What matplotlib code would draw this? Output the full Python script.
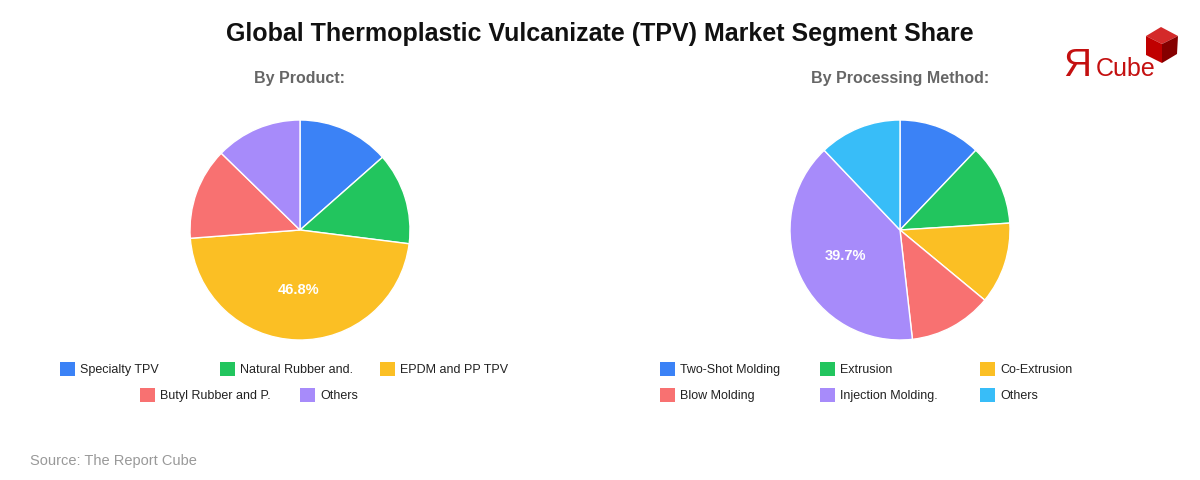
import matplotlib
matplotlib.use('Agg')
import matplotlib.pyplot as plt
from matplotlib.patches import Rectangle, Polygon

plt.rcParams['font.family'] = ['Liberation Sans', 'DejaVu Sans']

title = "Global Thermoplastic Vulcanizate (TPV) Market Segment Share"
product_title = "By Product:"
method_title = "By Processing Method:"
product_labels = ["Specialty TPV", "Natural Rubber and.", "EPDM and PP TPV",
                  "Butyl Rubber and P.", "Others"]
product_values = [13.5, 13.5, 46.8, 13.5, 12.7]
product_colors = ["#3b82f6", "#22c55e", "#fbbf24", "#f87171", "#a78bfa"]
method_labels = ["Two-Shot Molding", "Extrusion", "Co-Extrusion",
                 "Blow Molding", "Injection Molding.", "Others"]
method_values = [12.1, 11.9, 12.0, 12.2, 39.7, 12.1]
method_colors = ["#3b82f6", "#22c55e", "#fbbf24", "#f87171", "#a78bfa", "#38bdf8"]
source = "Source: The Report Cube"

W, H = 1200, 480
fig = plt.figure(figsize=(12, 4.8), dpi=100)
fig.patch.set_facecolor('white')

ov = fig.add_axes([0, 0, 1, 1])
ov.set_xlim(0, W)
ov.set_ylim(H, 0)
ov.axis('off')
ov.patch.set_alpha(0)


def px_axes(cx, cy, r):
    return fig.add_axes([(cx - r) / W, (H - cy - r) / H, 2 * r / W, 2 * r / H])


def draw_pie(ax, values, colors):
    def fmt(p):
        return f'{p:.1f}%' if p > 30 else ''
    ax.pie(values, colors=colors, startangle=90, counterclock=False,
           autopct=fmt, pctdistance=0.55,
           wedgeprops=dict(edgecolor='white', linewidth=1),
           textprops=dict(color='white', fontsize=10.5, fontweight='bold'))
    ax.set_xlim(-1.0, 1.0)
    ax.set_ylim(-1.0, 1.0)
    ax.set_aspect('equal')
    ax.axis('off')


draw_pie(px_axes(300, 230, 110), product_values, product_colors)
draw_pie(px_axes(900, 230, 110), method_values, method_colors)

ov.text(600, 34, title, ha='center', va='center', fontsize=18,
        fontweight='bold', color='#111111')
ov.text(300, 78, product_title, ha='center', va='center', fontsize=11.5,
        fontweight='bold', color='#666666')
ov.text(900, 78, method_title, ha='center', va='center', fontsize=11.5,
        fontweight='bold', color='#666666')


def draw_legend(labels, colors, positions):
    for lab, col, (x, y) in zip(labels, colors, positions):
        ov.add_patch(Rectangle((x, y - 7), 15, 14, facecolor=col, edgecolor='none'))
        ov.text(x + 20, y + 1, lab, ha='left', va='center', fontsize=9, color='#222222')


draw_legend(product_labels, product_colors,
            [(60, 369), (220, 369), (380, 369), (140, 395), (300, 395)])
draw_legend(method_labels, method_colors,
            [(660, 369), (820, 369), (980, 369), (660, 395), (820, 395), (980, 395)])

ov.text(30, 461, source, ha='left', va='center', fontsize=10.5, color='#999999')

# logo
ov.text(1063, 76, "Я", ha='left', va='baseline', fontsize=28, color='#c41010')
ov.text(1096, 76, "Cube", ha='left', va='baseline', fontsize=18, color='#c41010')
top = (1161, 27); ur = (1178, 36); lr = (1177, 54); bot = (1162, 63)
ll = (1146, 55); ul = (1146, 36); c = (1162, 44)
ov.add_patch(Polygon([top, ur, c, ul], closed=True, facecolor='#d42a2a', edgecolor='none'))
ov.add_patch(Polygon([ul, c, bot, ll], closed=True, facecolor='#c00000', edgecolor='none'))
ov.add_patch(Polygon([c, ur, lr, bot], closed=True, facecolor='#850000', edgecolor='none'))

fig.savefig('out.png', dpi=100, facecolor='white')
